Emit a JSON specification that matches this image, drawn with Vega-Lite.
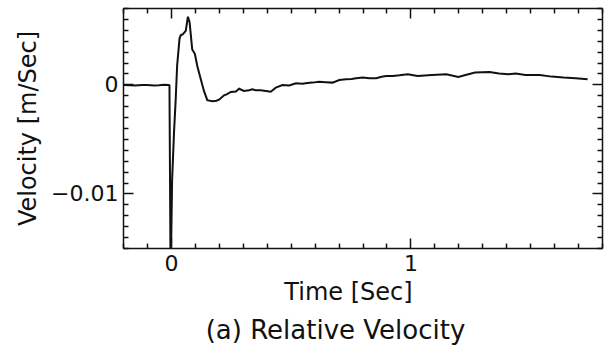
{
  "$schema": "https://vega.github.io/schema/vega-lite/v6.json",
  "width": 479,
  "height": 240,
  "autosize": "none",
  "padding": {"left": 123, "top": 8, "right": 11, "bottom": 101},
  "background": "white",
  "config": {
    "view": {"stroke": null},
    "font": "DejaVu Sans",
    "axis": {
      "domainColor": "#111",
      "domainWidth": 1.5,
      "tickColor": "#111",
      "tickWidth": 1.5,
      "grid": false,
      "labelColor": "#111",
      "titleColor": "#111",
      "labelFont": "DejaVu Sans",
      "titleFont": "DejaVu Sans",
      "labelFontSize": 22,
      "titleFontSize": 24,
      "titleFontWeight": "normal"
    }
  },
  "title": {
    "text": "(a) Relative Velocity",
    "orient": "bottom",
    "anchor": "middle",
    "font": "DejaVu Sans",
    "fontSize": 26,
    "fontWeight": "normal",
    "color": "#111",
    "offset": 14,
    "dx": -27
  },
  "data": {
    "values": [
      {"t": -0.2, "v": -0.00005},
      {"t": -0.17, "v": -0.00008},
      {"t": -0.15, "v": -0.0001},
      {"t": -0.12, "v": -0.00006},
      {"t": -0.1, "v": -0.00005},
      {"t": -0.07, "v": -0.0001},
      {"t": -0.05, "v": -0.00008},
      {"t": -0.03, "v": -0.00004},
      {"t": -0.01, "v": -0.00005},
      {"t": -0.006, "v": -0.0001},
      {"t": -0.002, "v": -0.015},
      {"t": 0.001, "v": -0.0148},
      {"t": 0.005, "v": -0.0088},
      {"t": 0.013, "v": -0.0044},
      {"t": 0.02, "v": -0.0014},
      {"t": 0.026, "v": 0.0017},
      {"t": 0.036, "v": 0.0042},
      {"t": 0.041, "v": 0.0045},
      {"t": 0.05, "v": 0.0046},
      {"t": 0.062, "v": 0.0049},
      {"t": 0.071, "v": 0.0062},
      {"t": 0.078, "v": 0.0057},
      {"t": 0.089, "v": 0.0032},
      {"t": 0.1, "v": 0.0028},
      {"t": 0.11, "v": 0.0017},
      {"t": 0.117, "v": 0.0011},
      {"t": 0.138, "v": -0.0006},
      {"t": 0.152, "v": -0.00145},
      {"t": 0.173, "v": -0.00155},
      {"t": 0.19, "v": -0.0015},
      {"t": 0.201, "v": -0.0014},
      {"t": 0.222, "v": -0.001},
      {"t": 0.235, "v": -0.0009},
      {"t": 0.25, "v": -0.0007},
      {"t": 0.271, "v": -0.00065},
      {"t": 0.285, "v": -0.0004},
      {"t": 0.305, "v": -0.0006},
      {"t": 0.326, "v": -0.00053},
      {"t": 0.34, "v": -0.00045},
      {"t": 0.354, "v": -0.00053},
      {"t": 0.375, "v": -0.00053},
      {"t": 0.396, "v": -0.0006},
      {"t": 0.417, "v": -0.00068},
      {"t": 0.438, "v": -0.0003},
      {"t": 0.466, "v": -0.00006},
      {"t": 0.494, "v": -0.0001},
      {"t": 0.522, "v": 0.0001},
      {"t": 0.549, "v": 0.00006},
      {"t": 0.57, "v": 0.00012},
      {"t": 0.591, "v": 0.00016},
      {"t": 0.619, "v": 0.00025},
      {"t": 0.647, "v": 0.0002},
      {"t": 0.675, "v": 0.00016},
      {"t": 0.703, "v": 0.0004},
      {"t": 0.731, "v": 0.00046},
      {"t": 0.755, "v": 0.0005},
      {"t": 0.773, "v": 0.00056},
      {"t": 0.801, "v": 0.00062},
      {"t": 0.829, "v": 0.00056},
      {"t": 0.857, "v": 0.00056},
      {"t": 0.88, "v": 0.0007},
      {"t": 0.899, "v": 0.00077},
      {"t": 0.927, "v": 0.00077},
      {"t": 0.954, "v": 0.00083},
      {"t": 0.989, "v": 0.00093},
      {"t": 1.03, "v": 0.00077},
      {"t": 1.06, "v": 0.00082},
      {"t": 1.09, "v": 0.00086},
      {"t": 1.15, "v": 0.00093},
      {"t": 1.2, "v": 0.00068},
      {"t": 1.23, "v": 0.00086},
      {"t": 1.27, "v": 0.00108},
      {"t": 1.33, "v": 0.00114},
      {"t": 1.37, "v": 0.00099},
      {"t": 1.41, "v": 0.00093},
      {"t": 1.44, "v": 0.00099},
      {"t": 1.48, "v": 0.00086},
      {"t": 1.54, "v": 0.00086},
      {"t": 1.59, "v": 0.00071},
      {"t": 1.64, "v": 0.00062},
      {"t": 1.69, "v": 0.00056},
      {"t": 1.74, "v": 0.00046}
    ]
  },
  "layer": [
    {
      "mark": {"type": "line", "color": "#111", "strokeWidth": 2, "clip": true},
      "encoding": {
        "x": {
          "field": "t", "type": "quantitative",
          "scale": {"domain": [-0.2, 1.8], "nice": false, "zero": false},
          "axis": {
            "orient": "bottom",
            "title": "Time [Sec]",
            "titleX": 225,
            "titlePadding": 1,
            "domain": true,
            "ticks": true,
            "values": [-0.2, -0.1, 0, 0.1, 0.2, 0.3, 0.4, 0.5, 0.6, 0.7, 0.8, 0.9, 1, 1.1, 1.2, 1.3, 1.4, 1.5, 1.6, 1.7, 1.8],
            "labelExpr": "abs(datum.value) < 1e-9 ? '0' : (abs(datum.value - 1) < 1e-9 ? '1' : '')",
            "tickSize": {"condition": {"test": "abs(datum.value) < 1e-9 || abs(datum.value - 1) < 1e-9", "value": -10}, "value": -5},
            "labelPadding": 15,
            "labelFlush": false,
            "labelOverlap": false
          }
        },
        "y": {
          "field": "v", "type": "quantitative",
          "scale": {"domain": [-0.015, 0.007], "nice": false, "zero": false},
          "axis": {
            "orient": "left",
            "title": "Velocity [m/Sec]",
            "titlePadding": 10,
            "domain": true,
            "ticks": true,
            "values": [-0.015, -0.014, -0.013, -0.012, -0.011, -0.01, -0.009, -0.008, -0.007, -0.006, -0.005, -0.004, -0.003, -0.002, -0.001, 0, 0.001, 0.002, 0.003, 0.004, 0.005, 0.006, 0.007],
            "labelExpr": "abs(datum.value) < 1e-9 ? '0' : (abs(datum.value + 0.01) < 1e-9 ? '\u22120.01' : '')",
            "tickSize": {"condition": {"test": "abs(datum.value) < 1e-9 || abs(datum.value + 0.01) < 1e-9", "value": -10}, "value": -5},
            "labelPadding": 15,
            "labelFlush": false,
            "labelOverlap": false
          }
        }
      }
    },
    {
      "mark": {"type": "line", "color": "#111", "strokeWidth": 2, "clip": true, "opacity": 0},
      "encoding": {
        "x": {
          "field": "t", "type": "quantitative",
          "axis": {
            "orient": "top",
            "title": null,
            "labels": false,
            "domain": true,
            "ticks": true,
            "values": [-0.2, -0.1, 0, 0.1, 0.2, 0.3, 0.4, 0.5, 0.6, 0.7, 0.8, 0.9, 1, 1.1, 1.2, 1.3, 1.4, 1.5, 1.6, 1.7, 1.8],
            "tickSize": {"condition": {"test": "abs(datum.value) < 1e-9 || abs(datum.value - 1) < 1e-9", "value": -10}, "value": -5}
          }
        }
      }
    },
    {
      "mark": {"type": "line", "color": "#111", "strokeWidth": 2, "clip": true, "opacity": 0},
      "encoding": {
        "y": {
          "field": "v", "type": "quantitative",
          "axis": {
            "orient": "right",
            "title": null,
            "labels": false,
            "domain": true,
            "ticks": true,
            "domainColor": "#111",
            "tickColor": "#111",
            "values": [-0.015, -0.014, -0.013, -0.012, -0.011, -0.01, -0.009, -0.008, -0.007, -0.006, -0.005, -0.004, -0.003, -0.002, -0.001, 0, 0.001, 0.002, 0.003, 0.004, 0.005, 0.006, 0.007],
            "tickSize": {"condition": {"test": "abs(datum.value) < 1e-9 || abs(datum.value + 0.01) < 1e-9", "value": -10}, "value": -5}
          }
        }
      }
    }
  ],
  "resolve": {"axis": {"x": "independent", "y": "independent"}}
}
